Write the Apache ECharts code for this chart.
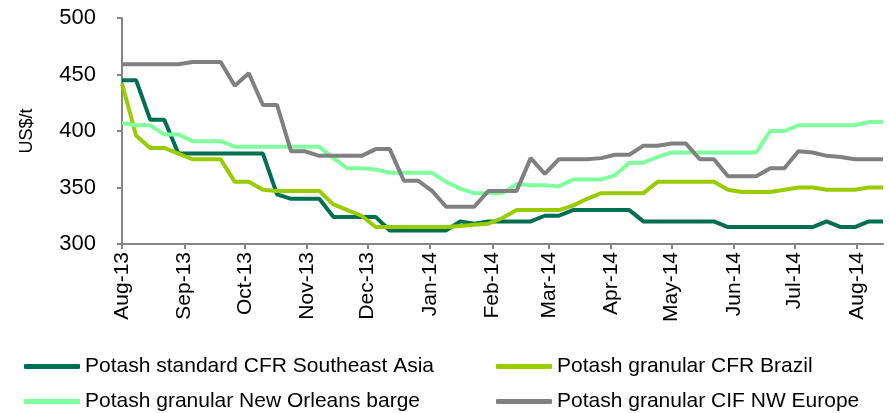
<!DOCTYPE html>
<html>
<head>
<meta charset="utf-8">
<script src="https://cdn.jsdelivr.net/npm/echarts@6/dist/echarts.min.js"></script>
<style>
  html, body { margin: 0; padding: 0; background: #fff; }
  #chart { width: 889px; height: 413px; }
</style>
</head>
<body>
<div id="chart"></div>
<script>
// weekly price dates
let dates = [
    '2013-08-01','2013-08-08','2013-08-15','2013-08-22','2013-08-29',
    '2013-09-05','2013-09-12','2013-09-19','2013-09-26',
    '2013-10-03','2013-10-10','2013-10-17','2013-10-24','2013-10-31',
    '2013-11-07','2013-11-14','2013-11-21','2013-11-28',
    '2013-12-05','2013-12-12','2013-12-19','2013-12-26',
    '2014-01-02','2014-01-09','2014-01-16','2014-01-23','2014-01-30',
    '2014-02-06','2014-02-13','2014-02-20','2014-02-27',
    '2014-03-06','2014-03-13','2014-03-20','2014-03-27',
    '2014-04-03','2014-04-10','2014-04-17','2014-04-24',
    '2014-05-01','2014-05-08','2014-05-15','2014-05-22','2014-05-29',
    '2014-06-05','2014-06-12','2014-06-19','2014-06-26',
    '2014-07-03','2014-07-10','2014-07-17','2014-07-24','2014-07-31',
    '2014-08-07','2014-08-14'
];

let se_asia = [445,445,410,410,380,380,380,380,380,380,380,344,340,340,340,324,324,324,324,312,
    312,312,312,312,320,318,320,320,320,320,325,325,330,330,330,330,330,320,320,320,
    320,320,320,315,315,315,315,315,315,315,320,315,315,320,320];
let brazil = [442,396,385,385,380,375,375,375,355,355,348,347,347,347,347,335,330,325,315,315,
    315,315,315,315,316,317,318,323,330,330,330,330,334,340,345,345,345,345,355,355,
    355,355,355,348,346,346,346,348,350,350,348,348,348,350,350];
let new_orleans = [407,405,405,397,397,391,391,391,386,386,386,386,386,386,386,376,367,367,366,363,
    363,363,363,355,349,345,345,345,353,352,352,351,357,357,357,361,372,372,377,381,
    381,381,381,381,381,381,400,400,405,405,405,405,405,408,408];
let nw_europe = [459,459,459,459,459,461,461,461,440,451,423,423,382,382,378,378,378,378,384,384,
    356,356,347,333,333,333,347,347,347,376,362,375,375,375,376,379,379,387,387,389,
    389,375,375,360,360,360,367,367,382,381,378,377,375,375,375];

let series_names = ['Potash standard CFR Southeast Asia', 'Potash granular CFR Brazil',
    'Potash granular New Orleans barge', 'Potash granular CIF NW Europe'];
let series_colors = ['#006E51', '#99CC00', '#80FF9F', '#808080'];
let month_names = ['Jan','Feb','Mar','Apr','May','Jun','Jul','Aug','Sep','Oct','Nov','Dec'];

let font = 'Liberation Sans, Arial, sans-serif';
let axis_color = '#868686';

function pairs(values) {
    return dates.map((d, i) => [d, values[i]]);
}

let all_values = [se_asia, brazil, new_orleans, nw_europe];
let series = all_values.map(function (vals, k) {
    return {
        name: series_names[k],
        type: 'line',
        data: pairs(vals),
        symbol: 'none',
        color: series_colors[k],
        lineStyle: { width: 4, color: series_colors[k] },
        animation: false
    };
});

let legend_common = {
    orient: 'vertical',
    icon: 'roundRect',
    itemWidth: 56,
    itemHeight: 5,
    itemGap: 14,
    padding: 0,
    height: 80,
    textStyle: { fontFamily: font, fontSize: 21, color: '#000', lineHeight: 21 },
    top: 356
};

let myChart = echarts.init(document.getElementById('chart'));
let option = {
    animation: false,
    grid: { left: 122, right: 6, top: 18, bottom: 169 },
    legend: [
        Object.assign({ left: 24, data: [series_names[0], series_names[2]] }, legend_common),
        Object.assign({ left: 496, data: [series_names[1], series_names[3]] }, legend_common)
    ],
    xAxis: {
        type: 'time',
        min: '2013-08-01',
        max: '2014-08-14',
        splitNumber: 13,
        minInterval: 28 * 86400000,
        maxInterval: 31 * 86400000,
        axisLine: { show: true, lineStyle: { color: axis_color, width: 2 } },
        axisTick: { show: true, length: 5, lineStyle: { color: axis_color, width: 2 } },
        splitLine: { show: false },
        axisLabel: {
            rotate: 90,
            margin: 8,
            showMinLabel: true,
            showMaxLabel: false,
            hideOverlap: false,
            fontFamily: font,
            fontSize: 21,
            color: '#000',
            formatter: function (v) {
                let d = new Date(v);
                return month_names[d.getMonth()] + '-' + String(d.getFullYear()).slice(2);
            }
        }
    },
    yAxis: {
        type: 'value',
        min: 300,
        max: 500,
        interval: 50,
        name: 'US$/t',
        nameLocation: 'middle',
        nameRotate: 90,
        nameGap: 86,
        nameTextStyle: { fontFamily: font, fontSize: 18, color: '#000' },
        axisLine: { show: true, lineStyle: { color: axis_color, width: 2 } },
        axisTick: { show: true, length: 5, lineStyle: { color: axis_color, width: 2 } },
        splitLine: { show: false },
        axisLabel: { margin: 26, fontFamily: font, fontSize: 22, color: '#000' }
    },
    series: series
};

myChart.setOption(option);
</script>
</body>
</html>
